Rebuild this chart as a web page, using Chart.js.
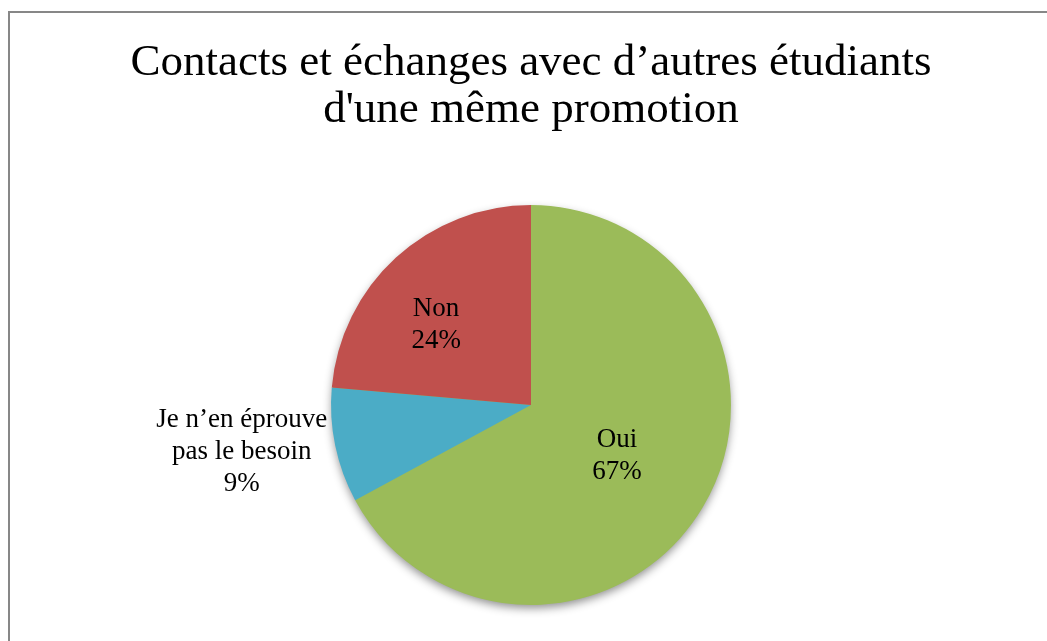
<!DOCTYPE html>
<html>
<head>
<meta charset="utf-8">
<script src="https://cdn.jsdelivr.net/npm/chart.js@4"></script>
<style>
  html, body { margin: 0; padding: 0; background: #fff; overflow: hidden; }
  #wrap { width: 1047px; height: 641px; position: relative; }
</style>
</head>
<body>
<div id="wrap"><canvas id="pieChart"></canvas></div>
<script>
// data (slice sizes, labels show them rounded)
const categories = [['Oui'], ['Je n’en éprouve', 'pas le besoin'], ['Non']];
const shares = [67.1, 9.3, 23.6];
const sliceColors = ['#9BBB59', '#4BACC6', '#C0504D'];
const titleLines = ['Contacts et échanges avec d’autres étudiants', "d'une même promotion"];

const FONT = "'Liberation Serif', 'Times New Roman', serif";

// where each label goes: inside at a fraction of the radius, or outside on the left
const labelPlacement = [
  { inside: true, f: 0.5, turn: 0 },
  { inside: false, gap: 8, drop: 6 },
  { inside: true, f: 0.62, turn: -0.13 }
];

// frame round the whole chart (runs past the right and bottom edges)
const framePlugin = {
  id: 'frame',
  beforeDraw(chart) {
    const ctx = chart.ctx;
    ctx.save();
    ctx.strokeStyle = '#878787';
    ctx.lineWidth = 2;
    ctx.strokeRect(9, 12, 2000, 2000);
    ctx.restore();
  }
};

// soft shadow under the pie
const shadowPlugin = {
  id: 'pieShadow',
  beforeDatasetsDraw(chart) {
    const arc = chart.getDatasetMeta(0).data[0];
    if (!arc) return;
    const ctx = chart.ctx;
    ctx.save();
    ctx.shadowColor = 'rgba(0,0,0,0.45)';
    ctx.shadowBlur = 10;
    ctx.shadowOffsetY = 4;
    ctx.fillStyle = '#9BBB59';
    ctx.beginPath();
    ctx.arc(arc.x, arc.y, arc.outerRadius - 1, 0, Math.PI * 2);
    ctx.fill();
    ctx.restore();
  }
};

// data labels: category + percentage
const labelPlugin = {
  id: 'sliceLabels',
  afterDatasetsDraw(chart) {
    const ctx = chart.ctx;
    const meta = chart.getDatasetMeta(0);
    const lh = 32;
    ctx.save();
    ctx.font = '27px ' + FONT;
    ctx.fillStyle = '#000';
    ctx.textAlign = 'center';
    ctx.textBaseline = 'middle';
    meta.data.forEach((arc, i) => {
      const lines = categories[i].concat([Math.round(shares[i]) + '%']);
      const mid = (arc.startAngle + arc.endAngle) / 2;
      const place = labelPlacement[i];
      let cx, cy;
      if (place.inside) {
        const a = mid + place.turn;
        cx = arc.x + Math.cos(a) * arc.outerRadius * place.f;
        cy = arc.y + Math.sin(a) * arc.outerRadius * place.f;
      } else {
        const ex = arc.x + Math.cos(mid) * arc.outerRadius;
        const ey = arc.y + Math.sin(mid) * arc.outerRadius;
        const w = Math.max(...lines.map(t => ctx.measureText(t).width));
        cx = ex - place.gap - w / 2;
        cy = ey + place.drop;
      }
      const top = cy - (lines.length - 1) * lh / 2;
      lines.forEach((t, k) => ctx.fillText(t, cx, top + k * lh));
    });
    ctx.restore();
  }
};

const ctx = document.getElementById('pieChart').getContext('2d');
new Chart(ctx, {
  type: 'pie',
  data: {
    labels: categories,
    datasets: [{
      data: shares,
      backgroundColor: sliceColors,
      borderWidth: 0
    }]
  },
  options: {
    responsive: true,
    maintainAspectRatio: false,
    animation: false,
    layout: {
      padding: { left: 15, right: 0, top: 0, bottom: 36 }
    },
    plugins: {
      legend: { display: false },
      tooltip: { enabled: false },
      title: {
        display: true,
        text: titleLines,
        color: '#000',
        font: { family: FONT, size: 45, weight: 'normal', lineHeight: 1.045 },
        padding: { top: 40, bottom: 71 }
      }
    }
  },
  plugins: [framePlugin, shadowPlugin, labelPlugin]
});
</script>
</body>
</html>
